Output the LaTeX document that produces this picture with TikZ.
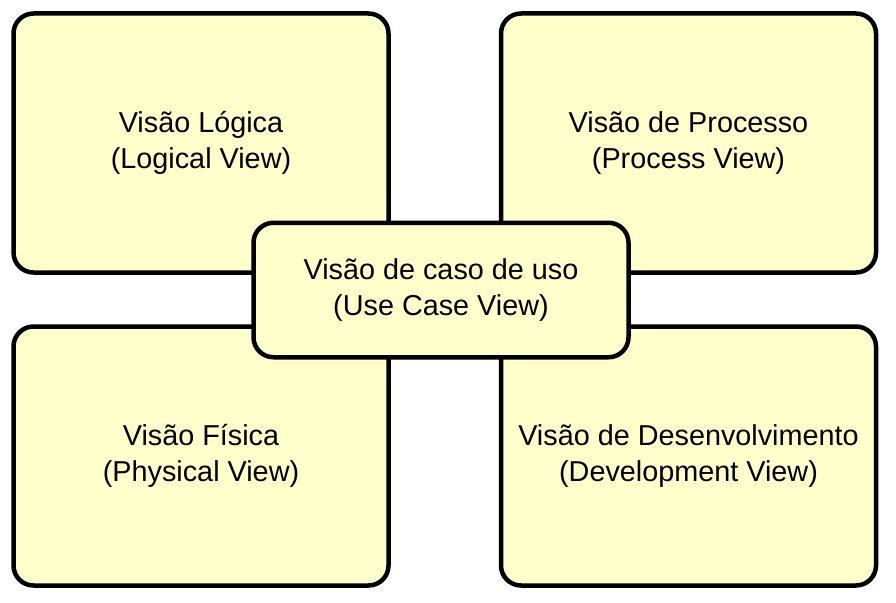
\documentclass[tikz,border=0pt]{standalone}
\usepackage{fontspec}
\setmainfont{Liberation Sans}
\definecolor{viewfill}{HTML}{FFFFCC}

\begin{document}
\begin{tikzpicture}[x=1pt,y=-1pt,
  viewbox/.style={draw=black, line width=4.5pt, fill=viewfill, rounded corners=20pt,
    align=center, inner sep=0pt, font=\fontsize{28.8}{36}\selectfont,
    minimum width=375pt, minimum height=259pt}]
  \useasboundingbox (0,0) rectangle (896,602);
  % four views round the use case view
  \node[viewbox] (logical) at (201,143) {Visão Lógica\\ (Logical View)};
  \node[viewbox] (process) at (688.5,143) {Visão de Processo\\ (Process View)};
  \node[viewbox] (physical) at (201,456) {Visão Física\\ (Physical View)};
  \node[viewbox] (development) at (688.5,456) {Visão de Desenvolvimento\\ (Development View)};
  % centre box on top
  \node[viewbox, minimum height=134.5pt] (usecase) at (441,290) {Visão de caso de uso\\ (Use Case View)};
\end{tikzpicture}
\end{document}
